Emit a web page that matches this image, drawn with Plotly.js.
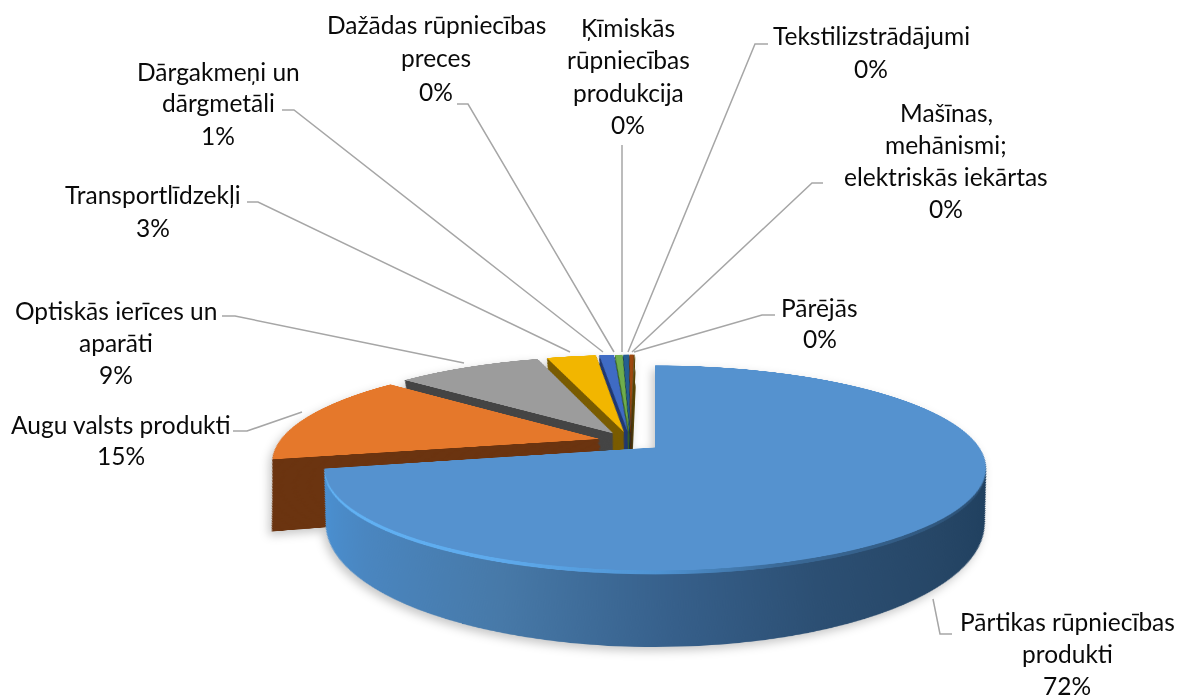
<!DOCTYPE html>
<html><head><meta charset="utf-8">
<script src="https://cdn.plot.ly/plotly-3.0.1.min.js"></script>
<style>
html,body{margin:0;padding:0;background:#fff;width:1181px;height:700px;overflow:hidden}
#stage{position:absolute;left:0;top:0;width:1181px;height:700px;overflow:hidden}
#shadow{position:absolute;left:0;top:0;width:1181px;height:700px;filter:drop-shadow(-3px 4px 5px rgba(0,0,0,.22))}
#pie{position:absolute;left:130px;top:-73.4px;width:1000px;height:1000px;transform-origin:525px 520.4px;
 transform:matrix3d(1,0,0,0, 0,.3037,0,-.000617, 0,0,1,0, 0,0,0,1)}
#labels{position:absolute;left:0;top:0;width:1181px;height:700px}
</style></head><body>
<div id="stage"><div id="shadow"><div id="pie"></div></div><div id="labels"></div></div>
<script>
const categories=["Pārtikas rūpniecības produkti","Augu valsts produkti","Optiskās ierīces un aparāti","Transportlīdzekļi","Dārgakmeņi un dārgmetāli","Dažādas rūpniecības preces","Ķīmiskās rūpniecības produkcija","Tekstilizstrādājumi","Mašīnas, mehānismi; elektriskās iekārtas","Pārējās"];
const values=[71.7,14.5,8.8,3.0,0.9,0.45,0.35,0.25,0.03,0.02];
const percents=["72%","15%","9%","3%","1%","0%","0%","0%","0%","0%"];
const labelLines=[["Pārtikas rūpniecības","produkti"],["Augu valsts produkti"],["Optiskās ierīces un","aparāti"],["Transportlīdzekļi"],["Dārgakmeņi un","dārgmetāli"],["Dažādas rūpniecības","preces"],["Ķīmiskās","rūpniecības","produkcija"],["Tekstilizstrādājumi"],["Mašīnas,","mehānismi;","elektriskās iekārtas"],["Pārējās"]];
const topColors=["#5592cf","#e5782b","#9c9c9c","#f2b600","#3f6bc4","#6fae4c","#255e91","#9e480e","#636363","#997300"];
const sideColors=["#3f6f9f","#6b3410","#454545","#7a5c00","#223a70","#3c6428","#14324e","#5a2a08","#333333","#5a4400"];
// label layout (pixels)
const labelCx=[1067,121,116,153,218,436,628,871,946,820];
const labelTop=[621,424,310,194,71,25,27,35,112,308];
const lineStep=[32,31,32,33,32,33,32.5,33,32,31];
const leaders=[
 [[952,634],[940,634],[933,599]],
 [[233,431],[247,431],[302,412]],
 [[222,316],[235,316],[464,363]],
 [[247,202],[258,202],[570,352]],
 [[282,110],[294,110],[603,352]],
 [[457,104],[468,104],[614,352]],
 [[622,145],[622,352]],
 [[768,44],[755,44],[628,352]],
 [[823,183],[812,183],[632,352]],
 [[775,315],[762,315],[634,352]]
];
const LAYERS=70, PULL=0.1, D=150, SY=0.98, SX=0.90, ORANGE_DY=50, ORANGE_DX=10;
const BX=525, BY=520.4;
const clear="rgba(0,0,0,0)";
function pieTrace(colors){
 return {type:"pie",values:values,labels:categories,sort:false,direction:"clockwise",rotation:0,
  pull:PULL,textinfo:"none",hoverinfo:"skip",showlegend:false,
  domain:{x:[0.1435,0.8565],y:[0.1435,0.8565]},
  marker:{colors:colors,line:{width:0}}};
}
const traces=[],meta=[];
for(let i=LAYERS;i>=1;i--){traces.push(pieTrace(sideColors.map((c,k)=>k===0?clear:c)));meta.push({t:i/LAYERS,g:false});}
traces.push(pieTrace(topColors.map((c,k)=>k===0?clear:c)));meta.push({t:0,g:false});
for(let i=LAYERS;i>=1;i--){traces.push(pieTrace(sideColors.map((c,k)=>k===0?c:clear)));meta.push({t:i/LAYERS,g:true});}
traces.push(pieTrace(topColors.map((c,k)=>k===0?c:clear)));meta.push({t:0,g:false});

Plotly.newPlot("pie",traces,{width:1000,height:1000,margin:{l:0,r:0,t:0,b:0},paper_bgcolor:clear,plot_bgcolor:clear},{staticPlot:true,displayModeBar:false}).then(()=>{
 const svg=document.querySelector("#pie .main-svg");
 const NS="http://www.w3.org/2000/svg";
 const defs=svg.querySelector("defs")||svg.insertBefore(document.createElementNS(NS,"defs"),svg.firstChild);
 function grad(id,stops){
  const g=document.createElementNS(NS,"linearGradient");g.setAttribute("id",id);
  stops.forEach(s=>{const e=document.createElementNS(NS,"stop");e.setAttribute("offset",s[0]);e.setAttribute("stop-color",s[1]);g.appendChild(e);});
  defs.appendChild(g);
 }
 grad("sideBlue",[[0,"#4a90d2"],[0.1,"#4a86c0"],[0.3,"#4779a8"],[0.52,"#365f8a"],[0.7,"#2c4f73"],[0.88,"#264666"],[1,"#1f3f5e"]]);
 grad("bevelBlue",[[0,"#62b4f6"],[0.3,"#5eaaec"],[0.5,"#4f93d2"],[0.65,"#3b6a98"],[1,"#2a4d70"]]);
 const groups=document.querySelectorAll("#pie .pielayer > .trace");
 groups.forEach((g,i)=>{
  const m=meta[i],t=m.t;
  const sx=1+(SX-1)*t, sy=1+(SY-1)*t, d=D*t;
  g.setAttribute("transform",`translate(${BX} ${BY+d}) scale(${sx} ${sy}) translate(${-BX} ${-BY})`);
  const slices=g.querySelectorAll("g.slice");
  if(slices[1]&&t>0)slices[1].setAttribute("transform",`translate(${ORANGE_DX*t} ${ORANGE_DY*t})`);
  if(m.g){
   const p=slices[0].querySelector("path.surface");
   p.style.fill=t<0.06?"url(#bevelBlue)":"url(#sideBlue)";
  }
 });
});

const W=1181,H=700;
const fx=x=>x/W, fy=y=>1-y/H;
const annotations=[];
categories.forEach((_,i)=>{
 labelLines[i].concat([percents[i]]).forEach((line,j)=>{
  annotations.push({xref:"paper",yref:"paper",x:fx(labelCx[i]),y:fy(labelTop[i]+j*lineStep[i]),text:line,showarrow:false,xanchor:"center",yanchor:"middle",
   font:{family:"Lato, Carlito, sans-serif",size:24.5,color:"#0a0a0a"}});
 });
});
const shapes=leaders.map(pts=>({type:"path",xref:"paper",yref:"paper",
 path:"M"+pts.map(p=>fx(p[0])+","+fy(p[1])).join(" L"),line:{color:"#a6a6a6",width:1.5}}));
Plotly.newPlot("labels",[],{width:W,height:H,margin:{l:0,r:0,t:0,b:0},paper_bgcolor:clear,plot_bgcolor:clear,
 xaxis:{visible:false},yaxis:{visible:false},annotations:annotations,shapes:shapes},{staticPlot:true,displayModeBar:false});
</script></body></html>
